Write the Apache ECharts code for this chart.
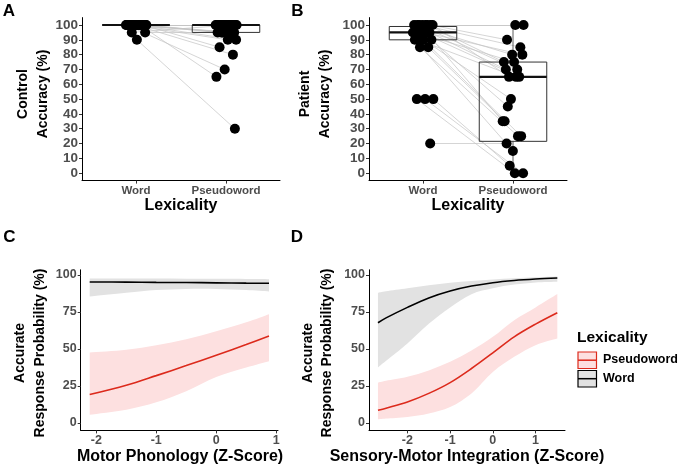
<!DOCTYPE html>
<html><head><meta charset="utf-8">
<script src="https://cdn.jsdelivr.net/npm/echarts@6/dist/echarts.min.js"></script>
<style>html,body{margin:0;padding:0;background:#fff}#c{width:680px;height:468px}</style>
</head><body><div id="c"></div>
<script>
// ---------- data ----------
const lexCategories = ['Word', 'Pseudoword'];
// paired accuracy per control subject (%)
const controlWord   = [100,100,100,100,100,100,100,100,100,100,100,100,100,100,100,100,100,100,100,100,100,100,100,100,100,100,100,95,95,90];
const controlPseudo = [100,100,100,100,100,100,100,100,100,100,100,100,100,100,100,100,95,95,95,95,95,90,90,85,80,70,65,100,95,30];
// paired accuracy per patient (%)
const patientWord   = [100,100,100,100,100,100,100,100,95,95,95,95,95,95,90,90,90,90,85,85,50,50,50,20];
const patientPseudo = [100,100,90,85,80,75,70,65,80,75,70,65,50,35,65,45,25,15,35,25,5,0,0,20];
// box stats [min, q1, median, q3, max] for Word, Pseudoword
const controlBoxes = [[100,100,100,100,100],[90,95,100,100,100]];
const patientBoxes = [[85,90,95,99,100],[0,21.5,65,75,100]];
const accTicks  = [0,10,20,30,40,50,60,70,80,90,100];
const probTicks = [0,25,50,75,100];
const zTicks    = [-2,-1,0,1];

// model predictions (%)
const motorX          = [-2.11,-1.5,-1,-0.5,0,0.5,0.88];
const motorPseudoFit  = [19.2,25.5,32,38.8,45.8,53,58.7];
const motorPseudoLow  = [5.6,9,14,21.5,31,37.5,41.8];
const motorPseudoHigh = [47.6,49.5,52.5,56.5,62,68,73.5];
const motorWordFit    = [95.3,95.2,95,94.9,94.7,94.5,94.4];
const motorWordLow    = [85.5,88,89.8,90.6,90.6,89.8,88.8];
const motorWordHigh   = [97.6,97.6,97.6,97.5,97.4,97.3,97.2];

const sensoryX          = [-2.69,-2.5,-2,-1.5,-1,-0.5,0,0.5,1,1.51];
const sensoryWordFit    = [67.7,71,78.1,84.5,89.2,92.5,94.8,96.3,97.3,98];
const sensoryWordLow    = [37.5,42,53.7,67,78,87,91,93.5,95,95.5];
const sensoryWordHigh   = [88,89,91,93,94.8,96,97,97.8,98.4,98.9];
const sensoryPseudoFit  = [8.6,10,14.2,20,27.3,36.8,47.4,58.2,66.8,74.5];
const sensoryPseudoLow  = [2.5,3,4.1,6.5,10.8,20,34.5,44.7,52.6,57.1];
const sensoryPseudoHigh = [27.3,28.5,31.2,35.5,41.3,49,58.2,69.5,78.1,87.1];

// ---------- styling ----------
const FONT = '"Liberation Sans", Arial, Helvetica, sans-serif';
const RED = '#dc2a1c', PINK = '#fde0e0', GREYBAND = '#e2e2e2';
const TICKCOL = '#4d4d4d';
const SMOOTH = 0.35;

function jit(i, col) { const f = ((i + 1) * 0.6180339887 + col * 0.37) % 1; return (f - 0.5) * 0.24; }

function xCatAxis(gi) {
  return {type:'value', gridIndex:gi, min:0.4, max:2.6, z:10,
    axisLine:{show:true, onZero:false, lineStyle:{color:'#000', width:1}},
    axisTick:{show:true, customValues:[1,2], length:3, lineStyle:{color:'#333'}},
    axisLabel:{customValues:[1,2], formatter:v => lexCategories[Math.round(v)-1], fontFamily:FONT, fontWeight:'bold', fontSize:11.5, color:TICKCOL, margin:4},
    splitLine:{show:false}};
}
function xZAxis(gi, min, max) {
  return {type:'value', gridIndex:gi, min, max, z:10,
    axisLine:{show:true, onZero:false, lineStyle:{color:'#000', width:1}},
    axisTick:{show:true, customValues:zTicks, length:3, lineStyle:{color:'#333'}},
    axisLabel:{customValues:zTicks, fontFamily:FONT, fontWeight:'bold', fontSize:12.5, color:TICKCOL, margin:4},
    splitLine:{show:false}};
}
function yAxis(gi, ticks, max, fs) {
  return {type:'value', gridIndex:gi, min:-5, max, z:10,
    axisLine:{show:true, onZero:false, lineStyle:{color:'#000', width:1}},
    axisTick:{show:true, customValues:ticks, length:3, lineStyle:{color:'#333'}},
    axisLabel:{customValues:ticks, fontFamily:FONT, fontWeight:'bold', fontSize:fs, color:TICKCOL, margin:4},
    splitLine:{show:false}};
}

function pairedSeries(gi, word, pseudo, boxes) {
  const pts = [], segs = [];
  word.forEach((w, i) => {
    const a = [1 + jit(i, 0), w], b = [2 + jit(i, 1), pseudo[i]];
    pts.push(a, b); segs.push({coords:[a, b]});
  });
  return [
    {type:'lines', coordinateSystem:'cartesian2d', xAxisIndex:gi, yAxisIndex:gi, data:segs, silent:true, z:2,
     lineStyle:{color:'#c4c4c4', width:0.8, opacity:0.9}},
    boxSeries(gi, boxes),
    {type:'scatter', xAxisIndex:gi, yAxisIndex:gi, data:pts, symbol:'circle', symbolSize:10, itemStyle:{color:'#000', opacity:1}, silent:true, z:4}
  ];
}
function boxSeries(gi, boxes) {
  return {type:'custom', xAxisIndex:gi, yAxisIndex:gi, silent:true, z:3,
    encode:{x:0, y:[1,2,3,4,5]},
    data: boxes.map((b, k) => [k + 1].concat(b)),
    renderItem(params, api) {
      const x = api.value(0), mn = api.value(1), q1 = api.value(2), md = api.value(3), q3 = api.value(4), mx = api.value(5);
      const hw = 0.375;
      const tl = api.coord([x - hw, q3]), br = api.coord([x + hw, q1]);
      const cx = api.coord([x, md])[0];
      const yMed = api.coord([x, md])[1], yMin = api.coord([x, mn])[1], yMax = api.coord([x, mx])[1];
      const stroke = '#333';
      return {type:'group', children:[
        {type:'line', shape:{x1:cx, y1:tl[1], x2:cx, y2:yMax}, style:{stroke, lineWidth:0.8}},
        {type:'line', shape:{x1:cx, y1:br[1], x2:cx, y2:yMin}, style:{stroke, lineWidth:0.8}},
        {type:'rect', shape:{x:tl[0], y:tl[1], width:br[0]-tl[0], height:br[1]-tl[1]}, style:{fill:'none', stroke, lineWidth:1}},
        {type:'line', shape:{x1:tl[0], y1:yMed, x2:br[0], y2:yMed}, style:{stroke:'#111', lineWidth:2.2}}
      ]};
    }};
}
// smooth curve through pixel points (Catmull-Rom as cubic Beziers)
function curvePath(p, start) {
  let d = start ? `M${p[0][0]},${p[0][1]}` : `L${p[0][0]},${p[0][1]}`;
  for (let i = 0; i < p.length - 1; i++) {
    const p0 = p[Math.max(i - 1, 0)], p1 = p[i], p2 = p[i + 1], p3 = p[Math.min(i + 2, p.length - 1)];
    const c1 = [p1[0] + (p2[0] - p0[0]) / 6, p1[1] + (p2[1] - p0[1]) / 6];
    const c2 = [p2[0] - (p3[0] - p1[0]) / 6, p2[1] - (p3[1] - p1[1]) / 6];
    d += ` C${c1[0]},${c1[1]} ${c2[0]},${c2[1]} ${p2[0]},${p2[1]}`;
  }
  return d;
}
function bandSeries(gi, xs, low, high, color) {
  return {type:'custom', xAxisIndex:gi, yAxisIndex:gi, silent:true, z:1,
    data: xs.map((x, i) => [x, low[i], high[i]]),
    encode:{x:0, y:[1,2]},
    renderItem(params, api) {
      if (params.dataIndex !== 0) return null;
      const up = xs.map((x, i) => api.coord([x, high[i]]));
      const lo = xs.map((x, i) => api.coord([x, low[i]])).reverse();
      const d = curvePath(up, true) + ' ' + curvePath(lo, false) + ' Z';
      return {type:'path', shape:{pathData:d}, style:{fill:color, stroke:null}};
    }};
}
function fitSeries(gi, xs, fit, color) {
  return {type:'line', xAxisIndex:gi, yAxisIndex:gi, data:xs.map((x,i)=>[x, fit[i]]), symbol:'none', smooth:SMOOTH,
    lineStyle:{color, width:1.6}, silent:true, z:6};
}
function txt(text, x, y, size, rot, align, color) {
  return {type:'text', x, y, rotation: rot || 0, silent:true,
    style:{text, fill: color || '#000', font:`bold ${size}px ${FONT}`, align: align || 'center', verticalAlign:'middle',
           textAlign: align || 'center', textVerticalAlign:'middle'}};
}

const R = Math.PI / 2;
const option = {
  backgroundColor:'#fff',
  animation:false,
  grid:[
    {left:82, top:17.6, width:198, height:163},
    {left:369, top:17.6, width:198, height:163},
    {left:80.7, top:269.8, width:197.3, height:160.6},
    {left:369, top:269.8, width:196, height:160.6}
  ],
  xAxis:[xCatAxis(0), xCatAxis(1), xZAxis(2, -2.26, 1.03), xZAxis(3, -2.9, 1.69)],
  yAxis:[yAxis(0, accTicks, 105, 13.5), yAxis(1, accTicks, 105, 13.5), yAxis(2, probTicks, 103.5, 12.5), yAxis(3, probTicks, 103.5, 12.5)],
  series:[].concat(
    pairedSeries(0, controlWord, controlPseudo, controlBoxes),
    pairedSeries(1, patientWord, patientPseudo, patientBoxes),
    [bandSeries(2, motorX, motorWordLow, motorWordHigh, GREYBAND),
     bandSeries(2, motorX, motorPseudoLow, motorPseudoHigh, PINK),
     fitSeries(2, motorX, motorWordFit, '#000'), fitSeries(2, motorX, motorPseudoFit, RED)],
    [bandSeries(3, sensoryX, sensoryWordLow, sensoryWordHigh, GREYBAND),
     bandSeries(3, sensoryX, sensoryPseudoLow, sensoryPseudoHigh, PINK),
     fitSeries(3, sensoryX, sensoryWordFit, '#000'), fitSeries(3, sensoryX, sensoryPseudoFit, RED)]
  ),
  graphic:[
    txt('A', 9, 11.5, 17), txt('B', 297.5, 11, 17), txt('C', 9.5, 237.5, 17), txt('D', 297, 237.5, 17),
    txt('Control', 23, 94, 14, R), txt('Accuracy (%)', 43, 94, 14, R),
    txt('Patient', 305, 94, 14, R), txt('Accuracy (%)', 325, 94, 14, R),
    txt('Lexicality', 181, 206, 16), txt('Lexicality', 468, 206, 16),
    txt('Accurate', 20, 353, 14, R), txt('Response Probability (%)', 40, 353, 14, R),
    txt('Accurate', 308.5, 353, 14, R), txt('Response Probability (%)', 327.5, 353, 14, R),
    txt('Motor Phonology (Z-Score)', 180, 457, 16), txt('Sensory-Motor Integration (Z-Score)', 467, 457, 16),
    txt('Lexicality', 577, 338, 15.5, 0, 'left'),
    {type:'rect', shape:{x:578, y:352, width:18.5, height:16.5}, style:{fill:PINK, stroke:RED, lineWidth:1.2}, silent:true},
    {type:'line', shape:{x1:578, y1:360.2, x2:596.5, y2:360.2}, style:{stroke:RED, lineWidth:1.5}, silent:true},
    {type:'rect', shape:{x:578, y:370.5, width:18.5, height:16.5}, style:{fill:GREYBAND, stroke:'#000', lineWidth:1.2}, silent:true},
    {type:'line', shape:{x1:578, y1:378.7, x2:596.5, y2:378.7}, style:{stroke:'#000', lineWidth:1.5}, silent:true},
    txt('Pseudoword', 603, 360, 12.5, 0, 'left'), txt('Word', 603, 378.5, 12.5, 0, 'left')
  ]
};
const chart = echarts.init(document.getElementById('c'), null, {renderer:'canvas'});
chart.setOption(option);
</script></body></html>
